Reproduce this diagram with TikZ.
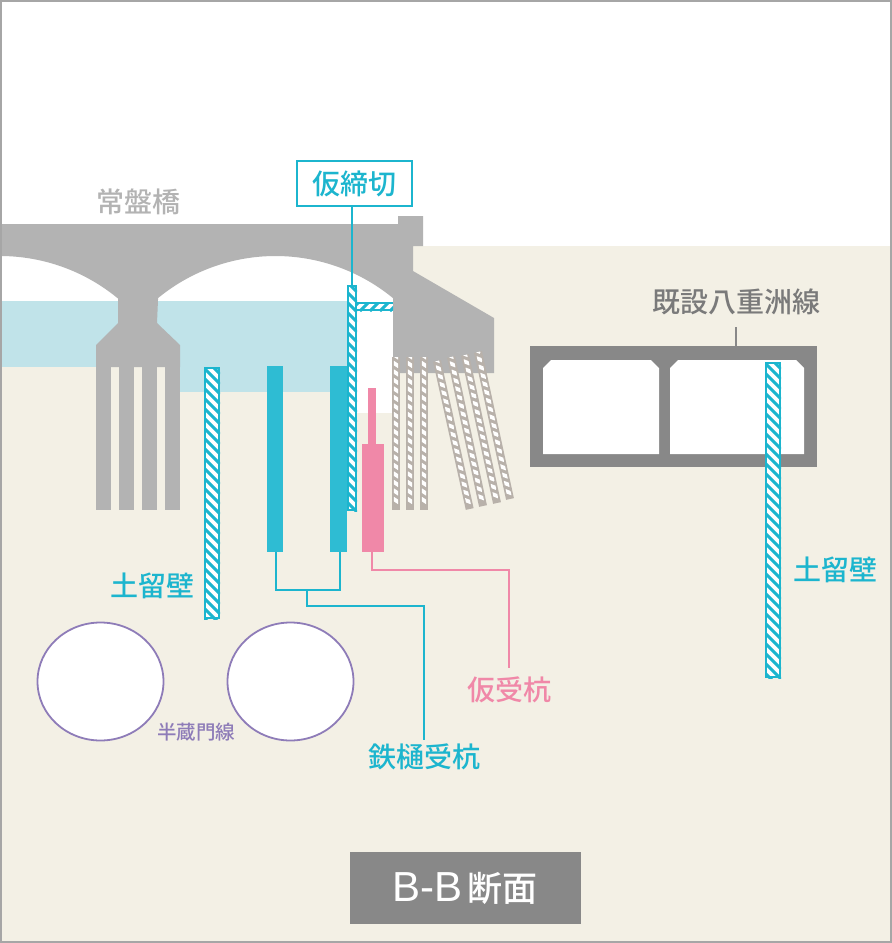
\documentclass[tikz,border=0pt]{standalone}
\usepackage{fontspec}
\setmainfont{Noto Sans CJK JP Medium}
\newfontfamily\latinfont{Liberation Sans}
\usetikzlibrary{calc,shapes.geometric}
\definecolor{ground}{HTML}{F3F0E5}
\definecolor{water}{HTML}{C0E3E9}
\definecolor{bridge}{HTML}{B3B3B3}
\definecolor{teal}{HTML}{1CB5CE}
\definecolor{tealfill}{HTML}{2EBCD3}
\definecolor{pinkc}{HTML}{F088A8}
\definecolor{purplec}{HTML}{8E7CB8}
\definecolor{darkbox}{HTML}{888888}
\definecolor{pilegray}{HTML}{B8B1AA}
\tikzset{
  lab/.style={inner sep=0pt,font=\fontsize{#1}{#1}\selectfont},
  leader/.style={line width=1.3pt},
  tunnel/.style={ellipse,draw=purplec,line width=1.8pt,fill=white,minimum width=126pt,minimum height=118pt,inner sep=0pt},
}
% teal hatched rectangle: x0 y0 x1 y1
\newcommand{\hatchrect}[4]{%
  \fill[white] (#1,#2) rectangle (#3,#4);
  \begin{scope}
    \clip (#1,#2) rectangle (#3,#4);
    \pgfmathsetmacro\hs{#2-(#3-#1)-3}
    \pgfmathsetmacro\hn{\hs+10}
    \foreach \yy in {\hs,\hn,...,#4}{
      \draw[teal,line width=3pt] (#1,\yy) -- (#3,{\yy+#3-#1});
    }
  \end{scope}
  \draw[teal,line width=2pt] ({#1+1},{#2+1}) rectangle ({#3-1},{#4-1});
}
% gray hatched pile: top centre, bottom centre
\newcommand{\pile}[4]{%
  \pgfmathsetmacro\plen{veclen(#3-#1,#4-#2)}
  \pgfmathsetmacro\ux{(#3-#1)/\plen}
  \pgfmathsetmacro\uy{(#4-#2)/\plen}
  \draw[pilegray,line width=8pt] (#1,#2) -- (#3,#4);
  \begin{scope}
    \clip ({#1+2.2*\uy},{#2-2.2*\ux}) -- ({#3+2.2*\uy},{#4-2.2*\ux}) -- ({#3-2.2*\uy},{#4+2.2*\ux}) -- ({#1-2.2*\uy},{#2+2.2*\ux}) -- cycle;
    \foreach \dd in {1,9.5,...,\plen}{
      \draw[white,line width=3.8pt]
        ({#1+\dd*\ux+3*\uy},{#2+\dd*\uy-3*\ux}) -- ({#1+(\dd-4)*\ux-3*\uy},{#2+(\dd-4)*\uy+3*\ux});
    }
  \end{scope}
}
\begin{document}
\begin{tikzpicture}[x=1pt,y=-1pt]
\useasboundingbox (0,0) rectangle (892,943);
\fill[white] (0,0) rectangle (892,943);
% ground and water
\fill[ground] (413,246) -- (892,246) -- (892,943) -- (0,943) -- (0,367) -- (413,367) -- cycle;
\fill[white] (357,300) rectangle (393,413);
\fill[water] (0,301) rectangle (347,367);
\fill[water] (180,367) rectangle (347,392);
% bridge
\fill[bridge] (0,224) -- (398,224) -- (398,216) -- (423,216) -- (423,246) -- (413,246) -- (413,271)
  -- (494,318) -- (494,373) -- (393,373) -- (393,297)
  -- plot[domain=39.4:0,samples=30] ({275.5+185*sin(\x)},{441-185*cos(\x)})
  -- plot[domain=0:-39.4,samples=30] ({275.5+185*sin(\x)},{441-185*cos(\x)})
  -- (157,323) -- (180,345) -- (180,367) -- (96,367) -- (96,345) -- (118,323) -- (118,298)
  -- plot[domain=39.6:0,samples=30] ({185*sin(\x)},{441-185*cos(\x)})
  -- cycle;
\fill[bridge] (96,366) rectangle (111,510);
\fill[bridge] (119,366) rectangle (134,510);
\fill[bridge] (142,366) rectangle (157,510);
\fill[bridge] (165,366) rectangle (180,510);
% foundation piles
\pile{396}{357}{396}{510}
\pile{410}{357}{410}{510}
\pile{424}{357}{424}{510}
\pile{437}{361}{469.7}{509}
\pile{451}{357}{483}{506}
\pile{465}{355}{497}{503}
\pile{478}{352}{510}{499}
% Yaesu line box
\fill[darkbox] (530,346) rectangle (817,467);
\fill[white] (551,360) -- (651,360) -- (659,368) -- (659,454) -- (543,454) -- (543,368) -- cycle;
\fill[white] (678,360) -- (796,360) -- (804,368) -- (804,454) -- (670,454) -- (670,368) -- cycle;
% retaining walls, cofferdam
\hatchrect{204}{367}{220}{619}
\hatchrect{765}{362}{781}{678}
% steel piles
\fill[tealfill] (267,366) rectangle (283,552);
\fill[tealfill] (330,366) rectangle (347,552);
\hatchrect{347}{285}{357}{511}
\begin{scope}
  \fill[white] (357,302) rectangle (393,311);
  \clip (357,302) rectangle (393,311);
  \foreach \xx in {350,360,...,400}{
    \draw[teal,line width=3pt] (\xx,311) -- (\xx+9,302);
  }
\end{scope}
\draw[teal,line width=2pt] (357,303) -- (393,303) (357,310) -- (393,310);
% temporary pile
\fill[pinkc] (368,388) rectangle (376,444);
\fill[pinkc] (362,444) rectangle (384,552);
% tunnels
\node[tunnel] (tunnelA) at (100.5,681.5) {};
\node[tunnel] (tunnelB) at (290.5,681.5) {};
% labels
\node[lab=28,text=bridge] (tokiwa) at (138.5,202) {常盤橋};
\node[lab=28,text=darkbox!90!black] (yaesu) at (736.5,302) {既設八重洲線};
\node[lab=28,text=teal] (wallL) at (152,586) {土留壁};
\node[lab=28,text=teal] (wallR) at (835,570) {土留壁};
\node[lab=28,text=pinkc,minimum height=44pt] (karipile) at (509,690) {仮受杭};
\node[lab=28,text=teal,minimum height=34pt] (steelpile) at (424,757) {鉄樋受杭};
\node[lab=19.5,text=purplec] (hanzomon) at (196,732) {半蔵門線};
\node[lab=28,draw=teal,line width=2pt,fill=white,text=teal,minimum width=115pt,minimum height=45pt] (kari) at (354.5,183.5) {仮締切};
\node[fill=darkbox,minimum width=231pt,minimum height=72pt] (title) at (465.5,888) {};
\node[lab=35,text=white,anchor=base west] (titletext) at (392,901) {{\latinfont\fontsize{42}{42}\selectfont B-B}\hspace{5pt}断面};
% leaders
\coordinate (cofferTop) at (352,285);
\coordinate (steelA) at (276,552);
\coordinate (steelB) at (340,552);
\coordinate (steelJoin) at (307,590);
\coordinate (pinkBottom) at (372,552);
\coordinate (boxTop) at (736,346);
\draw[teal,line width=1.6pt] (kari.south -| cofferTop) -- (cofferTop);
\draw[teal,leader] (steelA) |- (steelJoin) -| (steelB);
\draw[teal,leader] (steelA |- steelJoin) -- (steelB |- steelJoin);
\draw[teal,leader] (steelJoin) -- (307,606) -| (steelpile.north);
\draw[pinkc,leader] (pinkBottom) -- (372,570) -| (karipile.north);
\draw[darkbox,line width=1.6pt] (boxTop) -- (736,327);
% frame
\draw[black!35,line width=2pt] (1,1) rectangle (891,942);
\end{tikzpicture}
\end{document}
